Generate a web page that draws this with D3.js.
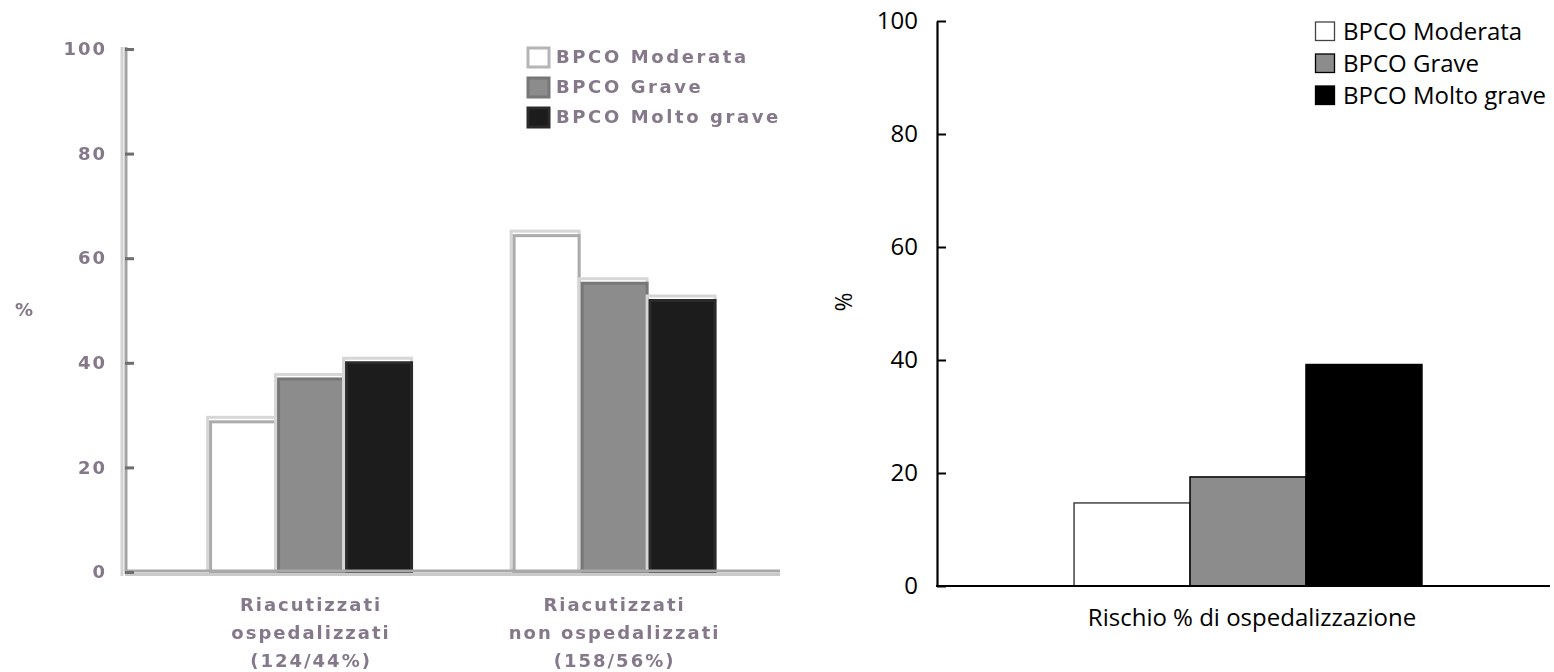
<!DOCTYPE html>
<html>
<head>
<meta charset="utf-8">
<script src="https://cdn.jsdelivr.net/npm/d3@7"></script>
<style>
  html, body { margin: 0; padding: 0; background: #fff; }
  svg { display: block; }
</style>
</head>
<body>
<svg id="chart" width="1554" height="672"></svg>
<script>
// Left panel: exacerbated patients, hospitalised vs not, by COPD severity
const severities = ["BPCO Moderata", "BPCO Grave", "BPCO Molto grave"];
const leftGroups = ["osp", "nonosp"];
const leftGroupLabels = [
  ["Riacutizzati", "ospedalizzati", "(124/44%)"],
  ["Riacutizzati", "non ospedalizzati", "(158/56%)"]
];
const leftModerata = [29, 64.6];
const leftGrave = [37.2, 55.5];
const leftMoltoGrave = [40.3, 52.2];
const leftTicks = [0, 20, 40, 60, 80, 100];

// Right panel: hospitalisation risk by COPD severity
const rightCategory = ["Rischio % di ospedalizzazione"];
const rightValues = [14.7, 19.3, 39.2];
const rightTicks = [0, 20, 40, 60, 80, 100];

const svg = d3.select("#chart");

// ---------- left panel ----------
const defs = svg.append("defs");
defs.append("filter").attr("id", "soft")
  .append("feGaussianBlur").attr("stdDeviation", 0.55);

const L = svg.append("g").attr("filter", "url(#soft)");
const lText = "#84788a";
const lFont = "'DejaVu Sans', sans-serif";

const yL = d3.scaleLinear().domain([0, 100]).range([572, 49]);
const xL = d3.scaleBand().domain(leftGroups).range([125, 780])
  .paddingInner(0.328).paddingOuter(0.243).align(0.57);
const xLs = d3.scaleBand().domain(severities).range([0, xL.bandwidth()]);

const leftSeries = [leftModerata, leftGrave, leftMoltoGrave];
const lFill = ["#ffffff", "#8c8c8c", "#1b1b1b"];
const lStroke = ["#ababab", "#777777", "#2b2b2b"];

// bars with the faint offset edge
leftGroups.forEach((g, gi) => {
  severities.forEach((s, si) => {
    const v = leftSeries[si][gi];
    const x = xL(g) + xLs(s);
    const y = yL(v);
    const w = xLs.bandwidth();
    const h = yL(0) - y;
    L.append("rect").attr("x", x - 1.5).attr("y", y - 3).attr("width", w).attr("height", h)
      .attr("fill", "none").attr("stroke", "#d6d6d6").attr("stroke-width", 3);
    L.append("rect").attr("x", x + 1.5).attr("y", y + 1.5).attr("width", w - 3).attr("height", h - 1.5)
      .attr("fill", lFill[si]).attr("stroke", lStroke[si]).attr("stroke-width", 3);
  });
});

// axes
L.append("line").attr("x1", 122).attr("x2", 122).attr("y1", 47).attr("y2", 576)
  .attr("stroke", "#d2d2d2").attr("stroke-width", 3);
L.append("line").attr("x1", 126).attr("x2", 126).attr("y1", 47).attr("y2", 574)
  .attr("stroke", "#a4a4a4").attr("stroke-width", 3);
L.append("line").attr("x1", 125).attr("x2", 780).attr("y1", 571).attr("y2", 571)
  .attr("stroke", "#a8a8a8").attr("stroke-width", 3);
L.append("line").attr("x1", 125).attr("x2", 780).attr("y1", 574.5).attr("y2", 574.5)
  .attr("stroke", "#cacaca").attr("stroke-width", 3);

const axL = d3.axisLeft(yL).tickValues(leftTicks).tickSizeInner(-9).tickSizeOuter(0).tickPadding(18);
const gAxL = L.append("g").attr("transform", "translate(125,0)").call(axL);
gAxL.select(".domain").remove();
gAxL.selectAll(".tick line").attr("stroke", "#6e6e6e").attr("stroke-width", 3);
gAxL.selectAll(".tick text").attr("fill", lText).attr("font-family", lFont)
  .attr("font-size", 18).attr("letter-spacing", 2).attr("font-weight", "bold");

L.append("text").attr("x", 24).attr("y", 316).attr("text-anchor", "middle")
  .attr("fill", lText).attr("font-family", lFont).attr("font-size", 18).attr("font-weight", "bold")
  .text("%");

// category labels
leftGroups.forEach((g, gi) => {
  const cx = xL(g) + xL.bandwidth() / 2;
  leftGroupLabels[gi].forEach((line, li) => {
    L.append("text").attr("x", cx).attr("y", 611 + li * 28)
      .attr("text-anchor", "middle").attr("fill", lText)
      .attr("font-family", lFont).attr("font-size", 18).attr("font-weight", "bold")
      .attr("letter-spacing", 2).text(line);
  });
});

// legend
severities.forEach((s, si) => {
  const y = 47 + si * 30;
  L.append("rect").attr("x", 528).attr("y", y + 1).attr("width", 21).attr("height", 19)
    .attr("fill", lFill[si]).attr("stroke", si === 0 ? "#b5b5b5" : lStroke[si]).attr("stroke-width", 3);
  L.append("text").attr("x", 556).attr("y", y + 10).attr("dy", "0.35em")
    .attr("fill", lText).attr("font-family", lFont).attr("font-size", 18).attr("font-weight", "bold")
    .attr("letter-spacing", 2.6).text(s);
});

// ---------- right panel ----------
const R = svg.append("g");
const rFont = "'Open Sans', sans-serif";

const yR = d3.scaleLinear().domain([0, 100]).range([586, 21]);
const xR = d3.scaleBand().domain(rightCategory).range([937, 1550])
  .paddingInner(0).paddingOuter(0.381).align(0.517);
const xRs = d3.scaleBand().domain(severities).range([0, xR.bandwidth()]);
const rFill = ["#ffffff", "#8c8c8c", "#000000"];
const rStroke = ["#444444", "#000000", "#000000"];

R.selectAll("rect.bar").data(severities).join("rect").attr("class", "bar")
  .attr("x", s => xR(rightCategory[0]) + xRs(s))
  .attr("y", (s, i) => yR(rightValues[i]))
  .attr("width", xRs.bandwidth())
  .attr("height", (s, i) => yR(0) - yR(rightValues[i]))
  .attr("fill", (s, i) => rFill[i])
  .attr("stroke", (s, i) => rStroke[i])
  .attr("stroke-width", 1.5);

const axR = d3.axisLeft(yR).tickValues(rightTicks).tickSizeInner(-9).tickSizeOuter(0).tickPadding(19);
const gAxR = R.append("g").attr("transform", "translate(937,0)").call(axR);
gAxR.select(".domain").attr("stroke", "#000").attr("stroke-width", 2.2);
gAxR.selectAll(".tick line").attr("stroke", "#000").attr("stroke-width", 2);
gAxR.selectAll(".tick text").attr("fill", "#000").attr("font-family", rFont).attr("font-size", 24);

R.append("line").attr("x1", 936).attr("x2", 1550).attr("y1", yR(0)).attr("y2", yR(0))
  .attr("stroke", "#000").attr("stroke-width", 2.2);

R.append("text").attr("transform", "translate(852,302) rotate(-90)")
  .attr("text-anchor", "middle").attr("font-family", rFont).attr("font-size", 23)
  .attr("fill", "#000").text("%");

R.append("text").attr("x", 1252).attr("y", 626)
  .attr("text-anchor", "middle").attr("font-family", rFont).attr("font-size", 24)
  .attr("fill", "#000").text(rightCategory[0]);

severities.forEach((s, si) => {
  const y = 22 + si * 32;
  R.append("rect").attr("x", 1315.5).attr("y", y).attr("width", 19).attr("height", 18.5)
    .attr("fill", rFill[si]).attr("stroke", rStroke[si]).attr("stroke-width", 1.3);
  R.append("text").attr("x", 1343).attr("y", y + 9).attr("dy", "0.36em")
    .attr("font-family", rFont).attr("font-size", 24).attr("fill", "#000").text(s);
});
</script>
</body>
</html>
